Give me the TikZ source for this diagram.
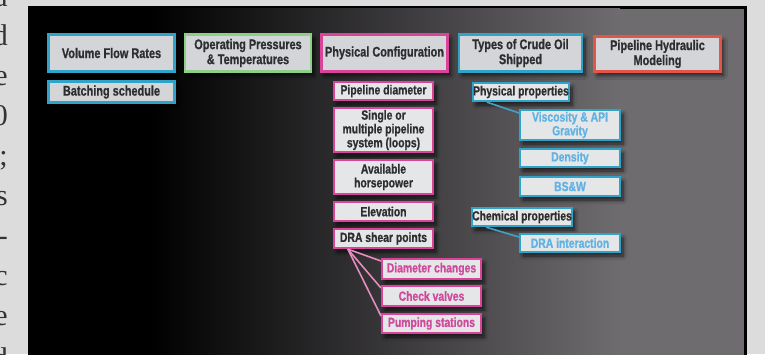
\documentclass[tikz,border=0pt]{standalone}
\usepackage{fontspec}
\setmainfont{Liberation Serif}
\newfontfamily\cond[FakeStretch=0.78,FakeBold=0.8]{Liberation Sans}
\usetikzlibrary{shadows.blur}
\definecolor{pagegray}{HTML}{DCDCDD}
\definecolor{bggray}{HTML}{6F6C70}
\definecolor{cy}{HTML}{2FA3C8}
\definecolor{gr}{HTML}{8CCF86}
\definecolor{mg}{HTML}{D9449A}
\definecolor{rd}{HTML}{E2564A}
\definecolor{boxfill}{HTML}{D3D5D8}
\definecolor{subfill}{HTML}{E4E6E8}
\definecolor{txtdark}{HTML}{2E2E30}
\definecolor{mgtext}{HTML}{CF4A9C}
\definecolor{cytext}{HTML}{5FB2E3}
\definecolor{mgline}{HTML}{E58CC0}
\definecolor{cyline}{HTML}{3EA3C6}
\newcommand{\boxfont}{\cond\bfseries\fontsize{14}{15}\selectfont}
\newcommand{\subfont}{\cond\bfseries\fontsize{13.3}{13.8}\selectfont}
\tikzset{
  bx/.style={line width=2.6pt, fill=boxfill, text=txtdark, font=\boxfont,
    align=center, inner sep=0pt,
    blur shadow={shadow xshift=3pt, shadow yshift=-4pt, shadow blur steps=6,
      shadow opacity=70, shadow blur radius=4pt}},
  lv2/.style={bx, line width=2.3pt, fill=subfill, font=\subfont},
  lv3/.style={bx, line width=2pt, fill=subfill, font=\subfont},
  cyb/.style={draw=cy}, grb/.style={draw=gr}, mgb/.style={draw=mg}, rdb/.style={draw=rd},
  mgcon/.style={draw=mgline, line width=1.6pt},
  cycon/.style={draw=cyline, line width=1.6pt},
  pageletter/.style={anchor=base east, inner sep=0pt, text=black!80,
    font=\fontsize{30}{30}\selectfont}
}
\begin{document}
\begin{tikzpicture}[x=1pt,y=-1pt]
\useasboundingbox (0,0) rectangle (765,354);
% page and frame
\fill[pagegray] (0,0) rectangle (765,354);
\fill[black] (28,6) rectangle (747,356);
\shade[left color=black, right color=bggray] (150,8.5) rectangle (620,356);
\fill[bggray] (619.5,8.5) rectangle (744,356);
% cut-off page text at the left
\foreach \ch/\yy in {a/6, d/45, e/85, 0/125, ;/165, s/205, -/245, c/285, e/325, d/368}{
  \node[pageletter] (pl\yy) at (8,\yy) {\ch};
}
% top row
\node[bx,cyb,minimum width=126,minimum height=37] (vfr) at (111.5,53) {Volume Flow Rates};
\node[bx,grb,minimum width=126,minimum height=37] (opt) at (248,53) {Operating Pressures\\\& Temperatures};
\node[bx,mgb,minimum width=126,minimum height=37] (phc) at (384.5,53) {Physical Configuration};
\node[bx,cyb,minimum width=123,minimum height=37] (toc) at (520.5,53) {Types of Crude Oil\\Shipped};
\node[bx,rdb,minimum width=126,minimum height=35] (phm) at (657.5,54) {Pipeline Hydraulic\\Modeling};
% second level
\node[bx,cyb,minimum width=126,minimum height=21.5] (bat) at (111.5,92) {Batching schedule};
\node[lv2,mgb,minimum width=99,minimum height=18] (pd) at (383.5,91) {Pipeline diameter};
\node[lv2,mgb,minimum width=99,minimum height=44] (sm) at (383.5,130) {Single or\\multiple pipeline\\system (loops)};
\node[lv2,mgb,minimum width=99,minimum height=34] (ah) at (383.5,177) {Available\\horsepower};
\node[lv2,mgb,minimum width=99,minimum height=19] (el) at (383.5,211.5) {Elevation};
\node[lv2,mgb,minimum width=99,minimum height=19] (dra) at (383.5,238.5) {DRA shear points};
\node[lv2,cyb,minimum width=96,minimum height=18] (pp) at (521,92) {Physical properties};
\node[lv2,cyb,minimum width=98,minimum height=18] (cp) at (522,217) {Chemical properties};
% third level
\node[lv3,mgb,text=mgtext,minimum width=99,minimum height=20] (dc) at (431.5,269) {Diameter changes};
\node[lv3,mgb,text=mgtext,minimum width=99,minimum height=20] (cv) at (431.5,296) {Check valves};
\node[lv3,mgb,text=mgtext,minimum width=99,minimum height=19] (ps) at (431.5,323.5) {Pumping stations};
\node[lv3,cyb,text=cytext,minimum width=100,minimum height=30] (vis) at (570,125) {Viscosity \& API\\Gravity};
\node[lv3,cyb,text=cytext,minimum width=100,minimum height=18] (den) at (570,158) {Density};
\node[lv3,cyb,text=cytext,minimum width=100,minimum height=19] (bsw) at (570,186.5) {BS\&W};
\node[lv3,cyb,text=cytext,minimum width=100,minimum height=18] (dri) at (570,243) {DRA interaction};
% connectors
\draw[mgcon] ([xshift=15pt]dra.south west) -- ([yshift=-3pt]dc.north west);
\draw[mgcon] ([xshift=15pt]dra.south west) -- ([yshift=-3pt]cv.north west);
\draw[mgcon] ([xshift=15pt]dra.south west) -- ([yshift=-3pt]ps.north west);
\draw[cycon] ([xshift=15pt]pp.south west) -- ([yshift=-4pt]vis.north west);
\draw[cycon] ([xshift=15pt]cp.south west) -- ([yshift=-4pt]dri.north west);
\end{tikzpicture}
\end{document}
